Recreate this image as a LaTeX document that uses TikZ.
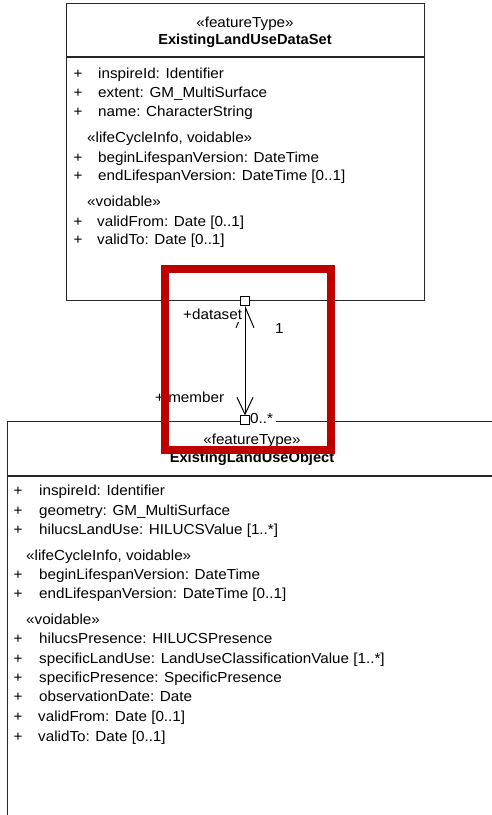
\documentclass[tikz,border=0pt]{standalone}
\usepackage{fontspec}
\setmainfont[FakeStretch=1.05, BoldFeatures={FakeStretch=1.01}]{Liberation Sans}
\usetikzlibrary{arrows.meta}
\begin{document}
\begin{tikzpicture}[x=1pt,y=-1pt,
  txt/.style={font=\fontsize{14.5}{17}\selectfont, inner sep=0pt, anchor=base west},
  ctr/.style={txt, anchor=base},
  ttl/.style={font=\fontsize{14.5}{17}\selectfont\bfseries, inner sep=0pt, anchor=base},
  classbox/.style={draw=black!85, line width=1.3pt, fill=white, inner sep=0pt, anchor=north west},
  sep/.style={draw=black!85, line width=1.3pt},
  endsq/.style={draw=black, line width=1pt, fill=white, minimum size=9pt, inner sep=0pt},
  rolelbl/.style={txt, fill=white, inner xsep=3pt, inner ysep=3pt},
  assoc/.style={draw=black, line width=1pt},
  marker/.style={draw=red!75!black, line width=8.3pt, line join=miter}
]
\clip (0,0) rectangle (492,815);
\useasboundingbox (0,0) rectangle (492,815);

% ---- class ExistingLandUseDataSet ----
\node[classbox, minimum width=358pt, minimum height=297pt] (ds) at (66,3) {};
\draw[sep] (66,57) -- (424,57);
\node[ctr] (dsst) at (245,27) {«featureType»};
\node[ttl] (dsname) at (245,44) {ExistingLandUseDataSet};
\foreach \yy/\tt [count=\i] in {78/inspireId: Identifier,97/extent: GM\_MultiSurface,116/name: CharacterString,162/beginLifespanVersion: DateTime,180/endLifespanVersion: DateTime [0..1]}{
  \node[ctr] (dsp\i) at (78,\yy) {+};
  \node[txt] (dsa\i) at (98,\yy) {\tt};
}
\node[txt] (dslc) at (87,142) {«lifeCycleInfo, voidable»};
\node[txt] (dsvo) at (87,206) {«voidable»};
\node[ctr] (dsp6) at (78,226) {+};
\node[txt] (dsa6) at (97,226) {validFrom: Date [0..1]};
\node[ctr] (dsp7) at (78,244) {+};
\node[txt] (dsa7) at (97,244) {validTo: Date [0..1]};

% ---- class ExistingLandUseObject ----
\node[classbox, minimum width=500pt, minimum height=420pt] (obj) at (7,421) {};
\draw[sep] (7,476) -- (510,476);
\node[ctr] (objst) at (252,444) {«featureType»};
\node[ttl] (objname) at (252,462) {ExistingLandUseObject};
\foreach \yy/\tt [count=\i] in {495/inspireId: Identifier,515/geometry: GM\_MultiSurface,534/hilucsLandUse: HILUCSValue [1..*],579/beginLifespanVersion: DateTime,598/endLifespanVersion: DateTime [0..1],643/hilucsPresence: HILUCSPresence,663/specificLandUse: LandUseClassificationValue [1..*],682/specificPresence: SpecificPresence,701/observationDate: Date}{
  \node[ctr] (obp\i) at (18,\yy) {+};
  \node[txt] (oba\i) at (39,\yy) {\tt};
}
\node[txt] (oblc) at (26,560) {«lifeCycleInfo, voidable»};
\node[txt] (obvo) at (26,624) {«voidable»};
\node[ctr] (obp10) at (18,721) {+};
\node[txt] (oba10) at (38,721) {validFrom: Date [0..1]};
\node[ctr] (obp11) at (18,741) {+};
\node[txt] (oba11) at (38,741) {validTo: Date [0..1]};

% ---- association dataset / member ----
\coordinate (topend) at (245,301);
\coordinate (botend) at (245,420);
\draw[assoc, {Straight Barb[length=21pt,width=18pt]}-{Straight Barb[length=17pt,width=16pt]}]
  ([yshift=-4.5pt]topend) -- ([yshift=4.5pt]botend);
\node[rolelbl] (dslbl) at (180,319) {+dataset};
\node[txt] (dsmul) at (275,333) {1};
\node[txt] (memlbl) at (155,402) {+ member};
\node[rolelbl, inner ysep=1pt] (memmul) at (247,423) {0..*};
\node[endsq] (sqtop) at (topend) {};
\node[endsq] (sqbot) at (botend) {};

% ---- highlight frame ----
\draw[marker] (165,269) rectangle (331,450);
\end{tikzpicture}
\end{document}
